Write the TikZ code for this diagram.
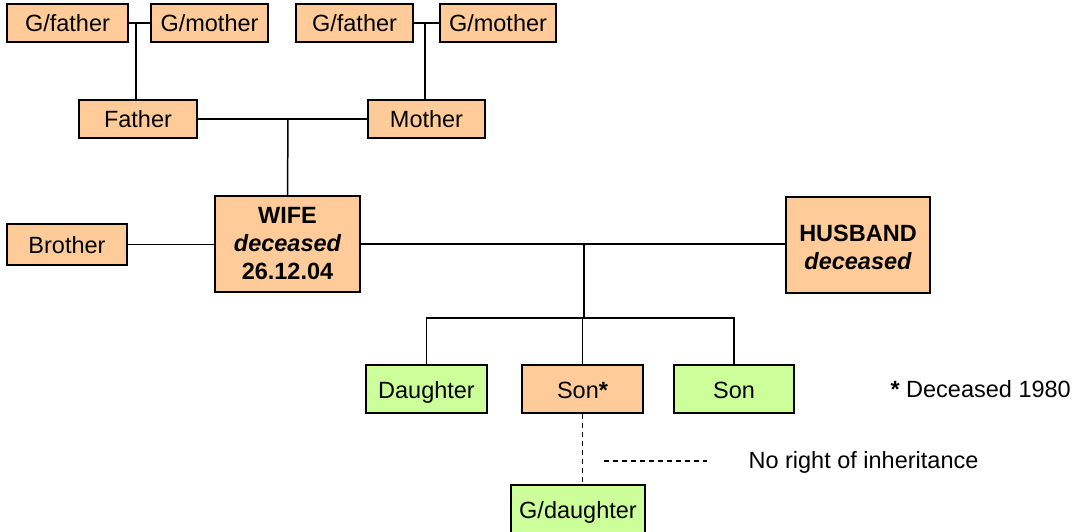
\documentclass[tikz,border=0pt]{standalone}
\usepackage{fontspec}
\setmainfont{Liberation Sans}
\begin{document}
\begin{tikzpicture}[x=1pt,y=-1pt,
  every node/.style={font=\fontsize{23.5}{27}\selectfont},
  person/.style={draw=black,line width=1.5pt,inner sep=0pt,anchor=center},
  oneline/.style={text height=20pt,text depth=2pt},
  dead/.style={person,fill=deadfill},
  alive/.style={person,fill=alivefill},
  link/.style={line width=1.5pt},
  nolink/.style={line width=1.5pt,dash pattern=on 5pt off 4pt}]
\definecolor{deadfill}{HTML}{FFCC99}
\definecolor{alivefill}{HTML}{CCFF99}
\useasboundingbox (0,0) rectangle (1088,532);
% grandparents
\node[dead,oneline,minimum width=121pt,minimum height=38pt] (gfl) at (67.5,23) {G/father};
\node[dead,oneline,minimum width=117pt,minimum height=38pt] (gml) at (209.5,23) {G/mother};
\node[dead,oneline,minimum width=117pt,minimum height=38pt] (gfr) at (354.5,23) {G/father};
\node[dead,oneline,minimum width=116pt,minimum height=38pt] (gmr) at (498,23) {G/mother};
% parents
\node[dead,oneline,minimum width=118pt,minimum height=38pt] (father) at (138,119) {Father};
\node[dead,oneline,minimum width=117pt,minimum height=38pt] (mother) at (426.5,119) {Mother};
% couple and brother
\node[dead,minimum width=145pt,minimum height=96pt,align=center,
  font=\fontsize{23.5}{28}\selectfont\bfseries] (wife) at (287.5,244)
  {WIFE\\\itshape deceased\\26.12.04};
\node[dead,oneline,minimum width=120pt,minimum height=41pt] (brother) at (67,244.5) {Brother};
\node[dead,minimum width=144pt,minimum height=96pt,align=center,
  font=\fontsize{23.5}{28}\selectfont\bfseries] (husband) at (858,245)
  {\rule{0pt}{21pt}HUSBAND\\\itshape deceased};
% children
\node[alive,oneline,minimum width=121pt,minimum height=48pt] (daughter) at (426.5,389) {Daughter};
\node[dead,oneline,minimum width=121pt,minimum height=48pt] (sonA) at (582.5,389) {Son\textbf{*}};
\node[alive,oneline,minimum width=120pt,minimum height=48pt] (sonB) at (734,389) {Son};
% grandchild, its lower edge runs off the page
\node[alive,oneline,minimum width=134pt,minimum height=50pt,anchor=north]
  (gdaughter) at (578,484) {G/daughter};
% notes
\node[anchor=west] (note) at (887,389) {\textbf{*} Deceased 1980};
\node[anchor=west] (legend) at (745,462.5) {No right of inheritance};
\coordinate (legA) at (604,461);
\coordinate (legB) at (707,461);
% connectors
\draw[link] (gfl) -- (gml);
\draw[link] (gfr) -- (gmr);
\draw[link] (136,23) -- (father.north -| 136,0);
\draw[link] (425,23) -- (mother.north -| 425,0);
\draw[link] (father) -- (mother);
\draw[link] (288,119) -- (wife.north);
\draw[link] (brother) -- (brother -| wife.west);
\draw[link] (wife.east |- 0,244) -- (husband.west |- 0,244);
\draw[link] (584,244) -- (584,318);
\draw[link] (daughter.north) -- (426.5,318) -- (734,318) -- (sonB.north);
\draw[link] (582.5,318) -- (sonA.north);
\draw[nolink] (sonA.south) -- (sonA.south |- gdaughter.north);
\draw[nolink] (legA) -- (legB);
\end{tikzpicture}
\end{document}
